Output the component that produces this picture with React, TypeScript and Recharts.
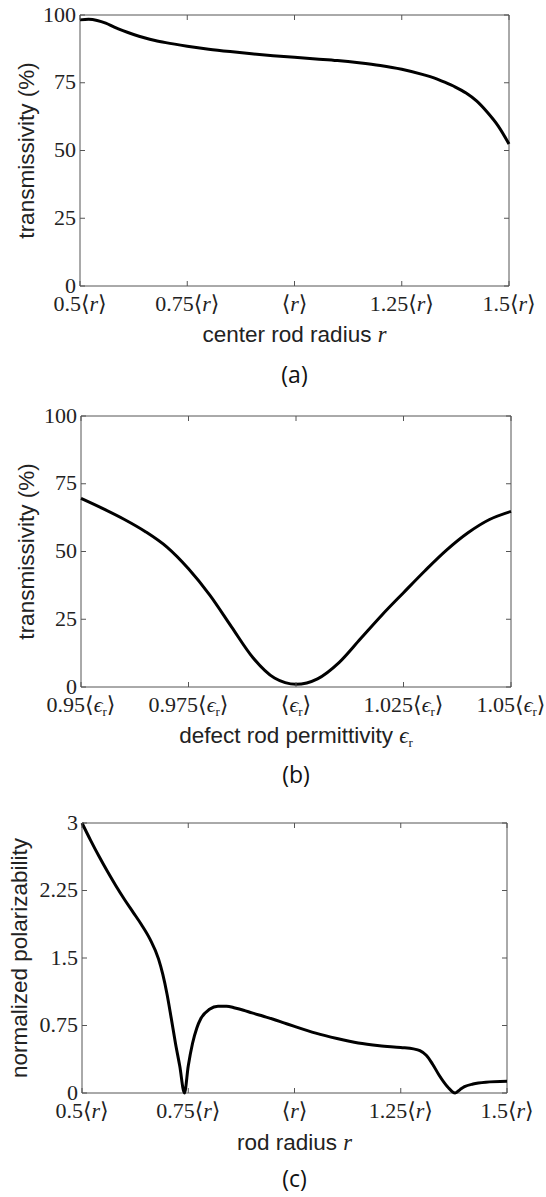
import { LineChart, Line, XAxis, YAxis, ReferenceArea } from "recharts";

// (a) transmissivity vs center rod radius (in units of <r>)
const radiusA = [0.5, 0.52, 0.54, 0.56, 0.58, 0.6, 0.625, 0.65, 0.675, 0.7, 0.75, 0.8, 0.85, 0.9, 0.95, 1.0, 1.05, 1.1, 1.15, 1.2, 1.25, 1.3, 1.325, 1.35, 1.375, 1.4, 1.425, 1.45, 1.475, 1.5];
const transA = [98.2, 98.4, 98.0, 97.0, 95.5, 94.2, 92.8, 91.6, 90.6, 89.8, 88.5, 87.4, 86.5, 85.7, 85.0, 84.4, 83.8, 83.2, 82.4, 81.4, 80.0, 78.0, 76.8, 75.2, 73.4, 71.2, 68.2, 64.0, 59.0, 52.4];

// (b) transmissivity vs defect rod permittivity (in units of <eps_r>)
const permB = [0.95, 0.955, 0.96, 0.965, 0.97, 0.975, 0.98, 0.985, 0.99, 0.995, 1.0, 1.005, 1.01, 1.015, 1.02, 1.025, 1.03, 1.035, 1.04, 1.045, 1.05];
const transB = [69.6, 65.9, 61.9, 57.3, 51.6, 43.6, 33.8, 22.2, 10.8, 3.3, 1.0, 3.0, 9.0, 17.8, 26.6, 34.8, 42.9, 50.5, 56.9, 61.8, 64.8];

// (c) normalized polarizability vs rod radius
const radiusC = [0.5, 0.52, 0.54, 0.56, 0.58, 0.6, 0.62, 0.64, 0.66, 0.68, 0.69, 0.7, 0.71, 0.72, 0.73, 0.741, 0.75, 0.76, 0.77, 0.78, 0.8, 0.82, 0.84, 0.86, 0.88, 0.9, 0.925, 0.95, 0.975, 1.0, 1.05, 1.1, 1.15, 1.2, 1.25, 1.28, 1.295, 1.31, 1.325, 1.34, 1.36, 1.378, 1.39, 1.4, 1.42, 1.45, 1.5];
const polC = [3.0, 2.81, 2.63, 2.46, 2.3, 2.15, 2.01, 1.87, 1.71, 1.49, 1.32, 1.1, 0.83, 0.55, 0.3, 0, 0.3, 0.55, 0.72, 0.83, 0.93, 0.965, 0.965, 0.945, 0.92, 0.89, 0.855, 0.82, 0.78, 0.74, 0.665, 0.605, 0.555, 0.525, 0.505, 0.49, 0.47, 0.42, 0.32, 0.2, 0.07, 0, 0.04, 0.07, 0.1, 0.12, 0.13];

const radiusTicks = [0.5, 0.75, 1, 1.25, 1.5];
const radiusTickPrefix = ["0.5", "0.75", "", "1.25", "1.5"];
const permTicks = [0.95, 0.975, 1, 1.025, 1.05];
const permTickPrefix = ["0.95", "0.975", "", "1.025", "1.05"];
const pctTicks = [0, 25, 50, 75, 100];
const pctTickLabels = ["0", "25", "50", "75", "100"];
const polTicks = [0, 0.75, 1.5, 2.25, 3];
const polTickLabels = ["0", "0.75", "1.5", "2.25", "3"];

const SERIF = "'Liberation Serif', 'DejaVu Serif', serif";
const SANS = "'Liberation Sans', sans-serif";
const CAPTION = "'Open Sans', sans-serif";
const INK = "#222";
const FRAME = "#555";
const TOP = 15; // chart margin above plot box
const EXTRA = 104; // room below plot box for ticks, title, caption

function bracket(kind: string) {
  if (kind === "eps") {
    return [
      <tspan key="o">⟨</tspan>,
      <tspan key="e" fontStyle="italic">ϵ</tspan>,
      <tspan key="s" fontSize={13} dy={4}>r</tspan>,
      <tspan key="c" dy={-4}>⟩</tspan>,
    ];
  }
  return [
    <tspan key="o">⟨</tspan>,
    <tspan key="r" fontStyle="italic">r</tspan>,
    <tspan key="c">⟩</tspan>,
  ];
}

function makeXTick(ticks: number[], prefixes: string[], kind: string, plotH: number) {
  const bottom = TOP + plotH;
  return (p: any) => {
    const i = ticks.findIndex((t) => Math.abs(t - p.payload.value) < 1e-9);
    return (
      <g>
        <line x1={p.x} x2={p.x} y1={bottom} y2={bottom - 5} stroke={FRAME} />
        <line x1={p.x} x2={p.x} y1={TOP} y2={TOP + 5} stroke={FRAME} />
        <text x={p.x} y={bottom + 25} textAnchor="middle" fill={INK} fontFamily={SERIF} fontSize={22}>
          <tspan>{prefixes[i]}</tspan>
          {bracket(kind)}
        </text>
      </g>
    );
  };
}

function makeYTick(ticks: number[], labels: string[], left: number, right: number) {
  return (p: any) => {
    const i = ticks.findIndex((t) => Math.abs(t - p.payload.value) < 1e-9);
    return (
      <g>
        <line x1={left} x2={left + 5} y1={p.y} y2={p.y} stroke={FRAME} />
        <line x1={right} x2={right - 5} y1={p.y} y2={p.y} stroke={FRAME} />
        <text x={left - 4} y={p.y + 6.5} textAnchor="end" fill={INK} fontFamily={SERIF} fontSize={22}>
          {labels[i]}
        </text>
      </g>
    );
  };
}

function YTitle({ text, tx, ty }: any) {
  return (
    <text
      x={tx}
      y={ty}
      transform={`rotate(-90 ${tx} ${ty})`}
      textAnchor="middle"
      dominantBaseline="central"
      fill={INK}
      fontFamily={SANS}
      fontSize={22.5}
    >
      {text}
    </text>
  );
}

function XTitle({ text, kind, caption, tx, titleY, captionY }: any) {
  return (
    <g>
      <text x={tx} y={titleY} textAnchor="middle" fill={INK} fontFamily={SANS} fontSize={22.5}>
        <tspan>{text} </tspan>
        <tspan fontFamily={SERIF} fontStyle="italic">{kind === "eps" ? "ϵ" : "r"}</tspan>
        {kind === "eps" && (
          <tspan fontFamily={SERIF} fontSize={13} dy={4}>r</tspan>
        )}
      </text>
      <text x={tx} y={captionY} textAnchor="middle" fill="#111" fontFamily={CAPTION} fontSize={23}>
        {caption}
      </text>
    </g>
  );
}

type PanelProps = {
  left: number;
  right: number;
  top: number;
  bottom: number;
  xs: number[];
  ys: number[];
  xTicks: number[];
  xPrefix: string[];
  kind: string;
  yTicks: number[];
  yLabels: string[];
  yMax: number;
  yTitle: string;
  yTitleX: number;
  xTitle: string;
  titleOff: number;
  caption: string;
  captionOff: number;
};

function Panel(p: PanelProps) {
  const plotH = p.bottom - p.top;
  const rows = p.xs.map((x, i) => ({ x, y: p.ys[i] }));
  const xMin = p.xTicks[0];
  const xMax = p.xTicks[p.xTicks.length - 1];
  const cx = (p.left + p.right) / 2;
  return (
    <div style={{ position: "absolute", left: 0, top: p.top - TOP }}>
      <LineChart
        width={546}
        height={TOP + plotH + EXTRA}
        data={rows}
        margin={{ top: TOP, right: 546 - p.right, left: 0, bottom: 0 }}
      >
        <XAxis
          dataKey="x"
          type="number"
          domain={[xMin, xMax]}
          ticks={p.xTicks}
          interval={0}
          height={EXTRA}
          axisLine={false}
          tickLine={false}
          tick={makeXTick(p.xTicks, p.xPrefix, p.kind, plotH)}
          label={
            <XTitle
              text={p.xTitle}
              kind={p.kind}
              caption={p.caption}
              tx={cx}
              titleY={TOP + plotH + p.titleOff}
              captionY={TOP + plotH + p.captionOff}
            />
          }
        />
        <YAxis
          type="number"
          domain={[0, p.yMax]}
          ticks={p.yTicks}
          interval={0}
          width={p.left}
          axisLine={false}
          tickLine={false}
          tick={makeYTick(p.yTicks, p.yLabels, p.left, p.right)}
          label={<YTitle text={p.yTitle} tx={p.yTitleX} ty={TOP + plotH / 2} />}
        />
        <ReferenceArea x1={xMin} x2={xMax} y1={0} y2={p.yMax} fill="none" stroke={FRAME} strokeWidth={1} />
        <Line
          type="monotone"
          dataKey="y"
          stroke="#000"
          strokeWidth={3}
          dot={false}
          activeDot={false}
          isAnimationActive={false}
        />
      </LineChart>
    </div>
  );
}

export default function App() {
  return (
    <div style={{ position: "absolute", left: 0, top: 0, width: 546, height: 1197, background: "#fff" }}>
      <Panel
        left={80}
        right={509}
        top={15}
        bottom={286}
        xs={radiusA}
        ys={transA}
        xTicks={radiusTicks}
        xPrefix={radiusTickPrefix}
        kind="r"
        yTicks={pctTicks}
        yLabels={pctTickLabels}
        yMax={100}
        yTitle="transmissivity (%)"
        yTitleX={26}
        xTitle="center rod radius"
        titleOff={56}
        caption="(a)"
        captionOff={97}
      />
      <Panel
        left={81}
        right={511}
        top={416}
        bottom={687}
        xs={permB}
        ys={transB}
        xTicks={permTicks}
        xPrefix={permTickPrefix}
        kind="eps"
        yTicks={pctTicks}
        yLabels={pctTickLabels}
        yMax={100}
        yTitle="transmissivity (%)"
        yTitleX={26}
        xTitle="defect rod permittivity"
        titleOff={56}
        caption="(b)"
        captionOff={96}
      />
      <Panel
        left={82}
        right={507}
        top={823}
        bottom={1093}
        xs={radiusC}
        ys={polC}
        xTicks={radiusTicks}
        xPrefix={radiusTickPrefix}
        kind="r"
        yTicks={polTicks}
        yLabels={polTickLabels}
        yMax={3}
        yTitle="normalized polarizability"
        yTitleX={19}
        xTitle="rod radius"
        titleOff={57}
        caption="(c)"
        captionOff={94}
      />
    </div>
  );
}
